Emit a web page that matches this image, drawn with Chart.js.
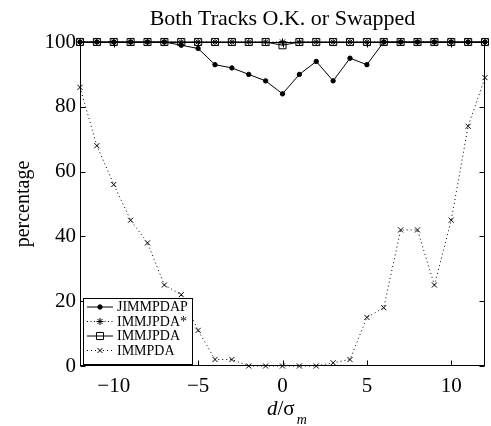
<!DOCTYPE html>
<html><head><meta charset="utf-8">
<script src="https://cdn.jsdelivr.net/npm/chart.js@4/dist/chart.umd.min.js"></script>
<style>html,body{margin:0;padding:0;background:#fff;overflow:hidden}</style>
</head><body>
<canvas id="c" width="491" height="426"></canvas>
<script>
// ---- data ----
const xValues = [-12,-11,-10,-9,-8,-7,-6,-5,-4,-3,-2,-1,0,1,2,3,4,5,6,7,8,9,10,11,12];
const jimmpdap   = [100,100,100,100,100,100,99,98,93,92,90,88,84,90,94,88,95,93,100,100,100,100,100,100,100];
const immjpdaStar= [100,100,100,100,100,100,100,100,100,100,100,100,100,100,100,100,100,100,100,100,100,100,100,100,100];
const immjpda    = [100,100,100,100,100,100,100,100,100,100,100,100,99,100,100,100,100,100,100,100,100,100,100,100,100];
const immpda     = [86,68,56,45,38,25,22,11,2,2,0,0,0,0,0,1,2,15,18,42,42,25,45,74,89];
const xTickValues = [-10,-5,0,5,10];
const yTickValues = [0,20,40,60,80,100];
const seriesNames = ['JIMMPDAP','IMMJPDA*','IMMJPDA','IMMPDA'];
const titleText = 'Both Tracks O.K. or Swapped';
const yTitle = 'percentage';

const SERIF = '"Liberation Serif","Times New Roman",serif';
const pts = arr => xValues.map((x,i)=>({x:x,y:arr[i]}));

const styles = [
  {pointStyle:'circle', pointRadius:2.2, dash:[], bg:'#000'},
  {pointStyle:'star', pointRadius:3.6, dash:[1,2.5], bg:'#000'},
  {pointStyle:'rect', pointRadius:5, dash:[], bg:'rgba(0,0,0,0)'},
  {pointStyle:'crossRot', pointRadius:3.6, dash:[1,3], bg:'#000'}
];
const seriesData = [jimmpdap, immjpdaStar, immjpda, immpda];

const datasets = seriesData.map((d,i)=>({
  label: seriesNames[i],
  data: pts(d),
  borderColor:'#000',
  backgroundColor: styles[i].bg,
  borderWidth:1,
  borderDash: styles[i].dash,
  pointStyle: styles[i].pointStyle,
  pointRadius: styles[i].pointRadius,
  pointBorderColor:'#000',
  pointBackgroundColor: styles[i].bg,
  pointBorderWidth:1,
  tension:0,
  clip:false
}));

const framePlugin = {
  id:'frame',
  afterDraw(chart){
    const {ctx, chartArea:a, scales} = chart;
    ctx.save();
    ctx.strokeStyle='#000'; ctx.lineWidth=1; ctx.setLineDash([]);
    const L=Math.round(a.left)+0.5, R=Math.round(a.right)-0.5, T=Math.round(a.top)+0.5, B=Math.round(a.bottom)-0.5;
    ctx.strokeRect(L,T,R-L,B-T);
    const tl=5;
    ctx.beginPath();
    xTickValues.forEach(v=>{
      const x=Math.round(scales.x.getPixelForValue(v))+0.5;
      ctx.moveTo(x,B); ctx.lineTo(x,B-tl);
      ctx.moveTo(x,T); ctx.lineTo(x,T+tl);
    });
    yTickValues.forEach(v=>{
      const y=Math.round(scales.y.getPixelForValue(v))+0.5;
      ctx.moveTo(L,y); ctx.lineTo(L+tl,y);
      ctx.moveTo(R,y); ctx.lineTo(R-tl,y);
    });
    ctx.stroke();

    // x-axis title: d/σ_m
    const x0 = 267;
    const by = 415;
    const f1 = 'italic 21px '+SERIF, f2 = '21px '+SERIF, f3 = 'italic 14px '+SERIF;
    ctx.fillStyle='#000'; ctx.textBaseline='alphabetic'; ctx.textAlign='left';
    ctx.font=f1; const w1=ctx.measureText('d').width;
    ctx.font=f2; const w2=ctx.measureText('/\u03C3').width;
    ctx.font=f1; ctx.fillText('d',x0,by);
    ctx.font=f2; ctx.fillText('/\u03C3',x0+w1,by);
    ctx.font=f3; ctx.fillText('m',x0+w1+w2+2,by+9);

    // legend box
    const lx=83.5, ly=298.5, lw=109, lh=66;
    ctx.fillStyle='#fff'; ctx.fillRect(lx,ly,lw,lh);
    ctx.strokeStyle='#000'; ctx.lineWidth=1; ctx.strokeRect(lx,ly,lw,lh);
    const rows=[307,321.5,336,350.5];
    rows.forEach((ry,i)=>{
      const st=styles[i];
      ctx.save();
      ctx.strokeStyle='#000'; ctx.lineWidth=1; ctx.setLineDash(st.dash);
      ctx.beginPath(); ctx.moveTo(87,ry); ctx.lineTo(113,ry); ctx.stroke();
      ctx.setLineDash([]);
      ctx.fillStyle=st.bg;
      Chart.helpers.drawPoint(ctx,{pointStyle:st.pointStyle,radius:st.pointRadius,borderWidth:1,rotation:0},100,ry);
      ctx.restore();
      ctx.fillStyle='#000'; ctx.font='14px '+SERIF; ctx.textBaseline='middle'; ctx.textAlign='left';
      ctx.fillText(seriesNames[i],117,ry+0.5);
    });
    ctx.restore();
  }
};

new Chart(document.getElementById('c'),{
  type:'line',
  data:{datasets},
  plugins:[framePlugin],
  options:{
    responsive:false, animation:false, devicePixelRatio:1,
    layout:{padding:{left:0,right:1,top:0,bottom:0}},
    plugins:{
      legend:{display:false},
      tooltip:{enabled:false},
      title:{display:true,text:titleText,color:'#000',fullSize:false,
        font:{family:SERIF,size:22,weight:'normal'},padding:{top:6.5,bottom:9.1}}
    },
    scales:{
      x:{type:'linear',min:-12,max:12,
        afterBuildTicks(s){ s.ticks = xTickValues.map(v=>({value:v})); },
        afterFit(s){ s.height = 60; },
        grid:{display:false,drawTicks:false},
        border:{display:false},
        ticks:{color:'#000',padding:8,maxRotation:0,autoSkip:false,
          font:{family:SERIF,size:21},
          callback:v=> v<0 ? '\u2212'+Math.abs(v) : String(v)}
      },
      y:{type:'linear',min:0,max:100,
        afterBuildTicks(s){ s.ticks = yTickValues.map(v=>({value:v})); },
        afterFit(s){ s.width = 80; },
        grid:{display:false,drawTicks:false},
        border:{display:false},
        ticks:{color:'#000',padding:4,font:{family:SERIF,size:21}},
        title:{display:true,text:yTitle,color:'#000',font:{family:SERIF,size:20},padding:{top:12,bottom:0}}
      }
    }
  }
});
</script>
</body></html>
